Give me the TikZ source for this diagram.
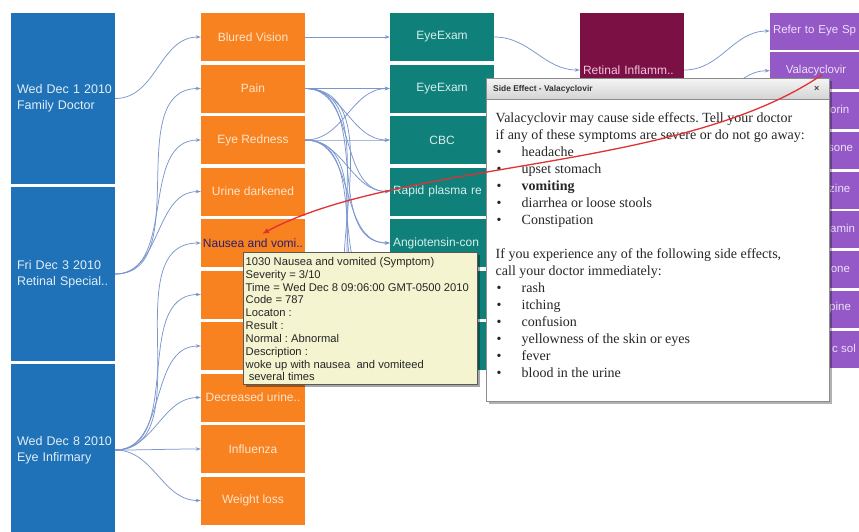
\documentclass[tikz,border=0pt]{standalone}
\usepackage{fontspec}
\setmainfont{Liberation Sans}
\newfontfamily\serifbody{Liberation Serif}
\usetikzlibrary{arrows.meta,calc,shadows}

\definecolor{visitblue}{RGB}{31,114,183}
\definecolor{visitlabel}{RGB}{226,238,248}
\definecolor{symorange}{RGB}{247,130,31}
\definecolor{symlabel}{RGB}{254,228,204}
\definecolor{testteal}{RGB}{16,128,122}
\definecolor{testlabel}{RGB}{214,238,236}
\definecolor{diagmaroon}{RGB}{122,16,68}
\definecolor{diaglabel}{RGB}{244,196,222}
\definecolor{medpurple}{RGB}{149,88,199}
\definecolor{medlabel}{RGB}{236,224,248}
\definecolor{linkblue}{RGB}{122,150,206}
\definecolor{tipyellow}{RGB}{244,244,208}
\definecolor{hilite}{RGB}{45,30,110}
\definecolor{pointer}{RGB}{226,48,52}

\newcommand{\popbullet}{\makebox[26pt][l]{\hspace{1pt}\textbullet}}
\newcommand{\visitline}[1]{\makebox[92pt][l]{#1}}

\begin{document}
\frenchspacing
\begin{tikzpicture}[x=1pt,y=-1pt,
  cell/.style={rectangle, inner sep=0pt, minimum width=104pt, minimum height=48pt,
    font=\fontsize{12}{14}\selectfont},
  visit/.style={cell, fill=visitblue, text=visitlabel, minimum height=#1,
    align=left, text width=92pt, inner xsep=6pt, font=\fontsize{12.5}{16}\selectfont},
  sym/.style={cell, fill=symorange, text=symlabel},
  test/.style={cell, fill=testteal, text=testlabel},
  testleft/.style={test, align=left, text width=98pt, inner xsep=3pt},
  med/.style={cell, fill=medpurple, text=medlabel, minimum width=92pt, minimum height=37pt,
    font=\fontsize{11.5}{13}\selectfont},
  medtext/.style={inner sep=0pt, text=medlabel, font=\fontsize{11.5}{13}\selectfont, anchor=west},
  link/.style={draw=linkblue, line width=0.75pt, -{Stealth[length=5pt,width=3.5pt]}},
  tooltip/.style={rectangle, fill=tipyellow, draw=black!65, line width=0.6pt, inner sep=0pt,
    drop shadow={shadow xshift=2.5pt, shadow yshift=-2.5pt, fill=black, opacity=0.35}},
  popup/.style={rectangle, fill=white, draw=black!45, line width=0.7pt, inner sep=0pt,
    drop shadow={shadow xshift=2.5pt, shadow yshift=-2.5pt, fill=black, opacity=0.3}},
  pointerarrow/.style={draw=pointer, line width=1.3pt, -{Latex[length=7pt,width=5.5pt]}}
]
\useasboundingbox (0,0) rectangle (859,531);
\clip (0,0) rectangle (859,531);
\fill[white] (0,0) rectangle (859,531);

% visits
\node[visit=171pt] (v1) at (63,98.5) {\visitline{Wed Dec 1 2010}\\\visitline{Family Doctor}};
\node[visit=174pt] (v2) at (63,274) {\visitline{Fri Dec 3 2010}\\\visitline{Retinal Special..}};
\node[visit=172pt] (v3) at (63,450) {\visitline{Wed Dec 8 2010}\\\visitline{Eye Infirmary}};

% symptoms
\node[sym] (s1) at (253,37) {Blured Vision};
\node[sym] (s2) at (253,88.5) {Pain};
\node[sym] (s3) at (253,140) {Eye Redness};
\node[sym] (s4) at (253,191.5) {Urine darkened};
\node[sym, text=hilite] (s5) at (253,243) {Nausea and vomi..};
\node[sym] (s6) at (253,294.5) {};
\node[sym] (s7) at (253,346) {};
\node[sym] (s8) at (253,397.5) {Decreased urine..};
\node[sym] (s9) at (253,449) {Influenza};
\node[sym] (s10) at (253,500.5) {Weight loss};

% tests
\node[test] (t1) at (442,37) {EyeExam};
\node[test] (t2) at (442,88.5) {EyeExam};
\node[test] (t3) at (442,140) {CBC};
\node[testleft] (t4) at (442,191.5) {Rapid plasma re};
\node[testleft] (t5) at (442,243) {Angiotensin-con};
\node[test] (t6) at (442,294.5) {};
\node[test] (t7) at (442,346) {};

% diagnosis
\node[cell, fill=diagmaroon, text=diaglabel, minimum height=114pt,
  align=left, text width=98pt, inner xsep=3pt] (dx) at (632,70) {Retinal Inflamm..};

% medications
\node[med, align=left, text width=86pt, inner xsep=3pt] (p1) at (816,31) {Refer to Eye Sp};
\node[med] (p2) at (816,70.75) {Valacyclovir};
\node[med] (p3) at (816,110.5) {};
\node[med] (p4) at (816,150.25) {};
\node[med] (p5) at (816,190) {};
\node[med] (p6) at (816,229.75) {};
\node[med] (p7) at (816,269.5) {};
\node[med] (p8) at (816,309.25) {};
\node[med] (p9) at (816,349) {};
\node[medtext] (p3t) at (830,109) {orin};
\node[medtext] (p4t) at (828,148) {sone};
\node[medtext] (p5t) at (829,188) {zine};
\node[medtext] (p6t) at (830,228) {amin};
\node[medtext] (p7t) at (828,268) {lone};
\node[medtext] (p8t) at (829,308) {pine};
\node[medtext] (p9t) at (832,348) {c sol};

% visit -> symptom
\draw[link] (v1.east) to[out=0,in=180] (s1.west);
\foreach \s in {s2,s3,s4}
  \draw[link] (v2.east) to[out=0,in=180] (\s.west);
\foreach \s in {s5,s6,s7,s8,s9,s10}
  \draw[link] (v3.east) to[out=0,in=180] (\s.west);

% symptom -> test
\draw[link] (s1.east) -- (t1.west);
\foreach \t in {t2,t3,t4,t5,t6,t7}
  \draw[link] (s2.east) to[out=0,in=180] (\t.west);
\foreach \t in {t2,t3,t4,t5,t6,t7}
  \draw[link] (s3.east) to[out=0,in=180] (\t.west);

% test -> diagnosis -> medication
\draw[link] (t1.east) to[out=0,in=180] (dx.west);
\draw[link] (dx.east) to[out=0,in=180] (p1.west);
\draw[link] ($(dx.east)+(0,45)$) to[out=0,in=180] (p2.west);

% event details
\node[tooltip, anchor=north west, minimum width=234pt, minimum height=132pt] (tip) at (243,252) {};
\node[anchor=north west, inner sep=0pt, align=left, text=black!85,
  font=\fontsize{11.2}{12.85}\selectfont] (tiptext) at (245.5,257) {%
1030 Nausea and vomited (Symptom)\\
Severity = 3/10\\
Time = Wed Dec 8 09:06:00 GMT-0500 2010\\
Code = 787\\
Locaton :\\
Result :\\
Normal : Abnormal\\
Description :\\
woke up with nausea\ \ and vomiteed\\
\ several times};

% side effect window
\node[popup, anchor=north west, minimum width=343pt, minimum height=323pt] (pop) at (486,78) {};
\node[anchor=north west, minimum width=343pt, minimum height=21pt, inner sep=0pt,
  top color=black!4, bottom color=black!17, draw=black!45, line width=0.7pt] (pophead) at (486,78) {};
\node[anchor=west, inner sep=0pt, font=\bfseries\fontsize{8.4}{10}\selectfont, text=black!80]
  (poptitle) at ($(pophead.west)+(7,0)$) {Side Effect - Valacyclovir};
\node[inner sep=0pt, font=\bfseries\fontsize{9}{9}\selectfont, text=black!75]
  (popclose) at ($(pophead.east)+(-13,0)$) {×};
\node[anchor=north west, inner sep=0pt, align=left, text=black!85,
  font=\serifbody\fontsize{14}{17}\selectfont] (popbody) at (495.5,112) {%
Valacyclovir may cause side effects. Tell your doctor\\
if any of these symptoms are severe or do not go away:\\
\popbullet headache\\
\popbullet upset stomach\\
\popbullet \textbf{vomiting}\\
\popbullet diarrhea or loose stools\\
\popbullet Constipation\\
\mbox{}\\
If you experience any of the following side effects,\\
call your doctor immediately:\\
\popbullet rash\\
\popbullet itching\\
\popbullet confusion\\
\popbullet yellowness of the skin or eyes\\
\popbullet fever\\
\popbullet blood in the urine};

% side effect pointer
\draw[pointerarrow] ($(p2.center)+(6,4)$) .. controls (680,172) and (400,160) .. ($(s5.center)+(9,-9)$);
\end{tikzpicture}
\end{document}
